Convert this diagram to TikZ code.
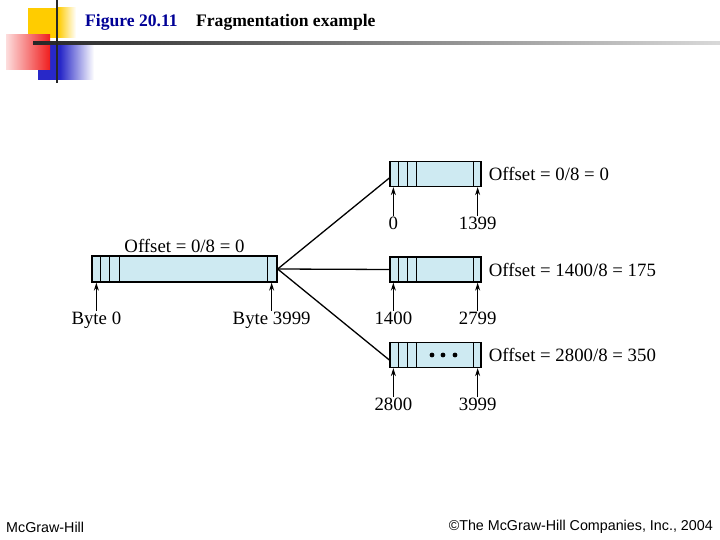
\documentclass[tikz,border=0pt]{standalone}
\usepackage{fontspec}
\setmainfont{Liberation Serif}
\newfontfamily\footfont{Liberation Sans}
\usetikzlibrary{arrows.meta,positioning,calc}

\definecolor{fragblue}{RGB}{206,234,242}
\definecolor{titleblue}{RGB}{0,0,150}
\definecolor{decoyellow}{RGB}{255,204,0}
\definecolor{decored}{RGB}{240,30,30}
\definecolor{decoblue}{RGB}{40,40,200}

\begin{document}
\begin{tikzpicture}[x=1pt, y=-1pt,
  dgram/.style={draw, line width=1.3pt, fill=fragblue, inner sep=0pt},
  lbl/.style={font=\fontsize{18.8}{18.8}\selectfont, inner sep=1pt},
  ttl/.style={font=\fontsize{17.6}{17.6}\selectfont\bfseries, inner sep=1pt},
  foot/.style={font=\footfont\fontsize{14.3}{14.3}\selectfont, inner sep=1pt},
  ar/.style={-{Stealth[length=8pt, width=5pt]}, line width=1pt},
  link/.style={line width=1.3pt}]
\useasboundingbox (0,0) rectangle (720,540);

% slide decoration
\fill[decoyellow] (28,8) rectangle (58,38);
\shade[left color=decoyellow, right color=white] (58,8) rectangle (76,38);
\fill[decoblue] (38,43) rectangle (60,80);
\shade[left color=decoblue, right color=white] (60,43) rectangle (94,80);
\shade[left color=decored!15, right color=decored] (6,35) rectangle (50,70);
\shade[left color=black!85, right color=black!15] (33,41.8) rectangle (720,44.6);
\draw[line width=2.2pt, black!85] (57,0) -- (57,83);

\node[ttl, text=titleblue, anchor=west] (fig) at (84,22) {Figure 20.11};
\node[ttl, right=16pt of fig] (title) {Fragmentation example};

% original datagram
\node[dgram, minimum width=185pt, minimum height=26pt] (dg) at (184.5,269) {};
\node[lbl, above=1pt of dg] (dgoff) {Offset = 0/8 = 0};
\node[lbl, below=28pt of dg.south west, xshift=5pt] (b0) {Byte 0};
\node[lbl, below=28pt of dg.south east, xshift=-6pt] (b3999) {Byte 3999};
\draw[ar] (b0.north) -- (b0.north |- dg.south);
\draw[ar] (b3999.north) -- (b3999.north |- dg.south);

% fragments
\node[dgram, minimum width=91pt, minimum height=25pt] (f1) at (435.5,174) {};
\node[dgram, minimum width=91pt, minimum height=25pt] (f2) at (435.5,269.5) {};
\node[dgram, minimum width=91pt, minimum height=25pt] (f3) at (435.5,355) {};

\node[lbl, right=6pt of f1] (f1off) {Offset = 0/8 = 0};
\node[lbl, right=6pt of f2] (f2off) {Offset = 1400/8 = 175};
\node[lbl, right=6pt of f3] (f3off) {Offset = 2800/8 = 350};

\node[lbl, below=29pt of f1.south west, xshift=4pt] (f1lo) {0};
\node[lbl, below=29pt of f1.south east, xshift=-4pt] (f1hi) {1399};
\node[lbl, below=28pt of f2.south west, xshift=4pt] (f2lo) {1400};
\node[lbl, below=28pt of f2.south east, xshift=-4pt] (f2hi) {2799};
\node[lbl, below=29pt of f3.south west, xshift=4pt] (f3lo) {2800};
\node[lbl, below=29pt of f3.south east, xshift=-4pt] (f3hi) {3999};

\draw[ar] (f1lo.north) -- (f1lo.north |- f1.south);
\draw[ar] (f1hi.north) -- (f1hi.north |- f1.south);
\draw[ar] (f2lo.north) -- (f2lo.north |- f2.south);
\draw[ar] (f2hi.north) -- (f2hi.north |- f2.south);
\draw[ar] (f3lo.north) -- (f3lo.north |- f3.south);
\draw[ar] (f3hi.north) -- (f3hi.north |- f3.south);

% header fields
\foreach \d in {9,18,28}
  \draw[line width=1pt] ([xshift=\d pt]dg.north west) -- ([xshift=\d pt]dg.south west);
\draw[line width=1pt] ([xshift=-10pt]dg.north east) -- ([xshift=-10pt]dg.south east);
\foreach \f in {f1,f2,f3} {
  \foreach \d in {9,18,27}
    \draw[line width=1pt] ([xshift=\d pt]\f.north west) -- ([xshift=\d pt]\f.south west);
  \draw[line width=1pt] ([xshift=-8pt]\f.north east) -- ([xshift=-8pt]\f.south east);
}
\foreach \dx in {-3.5,7.5,19.5}
  \fill ($(f3.center)+(\dx,0)$) circle (2.4pt);

\draw[link] (dg.east) -- ([yshift=-4pt]f1.west);
\draw[link] (dg.east) -- (f2.west);
\draw[link] (dg.east) -- ([yshift=-5pt]f3.west);

\node[foot, anchor=west] (pub) at (5,527) {McGraw-Hill};
\node[foot, anchor=east] (copy) at (714,527) {©The McGraw-Hill Companies, Inc., 2004};
\end{tikzpicture}
\end{document}
